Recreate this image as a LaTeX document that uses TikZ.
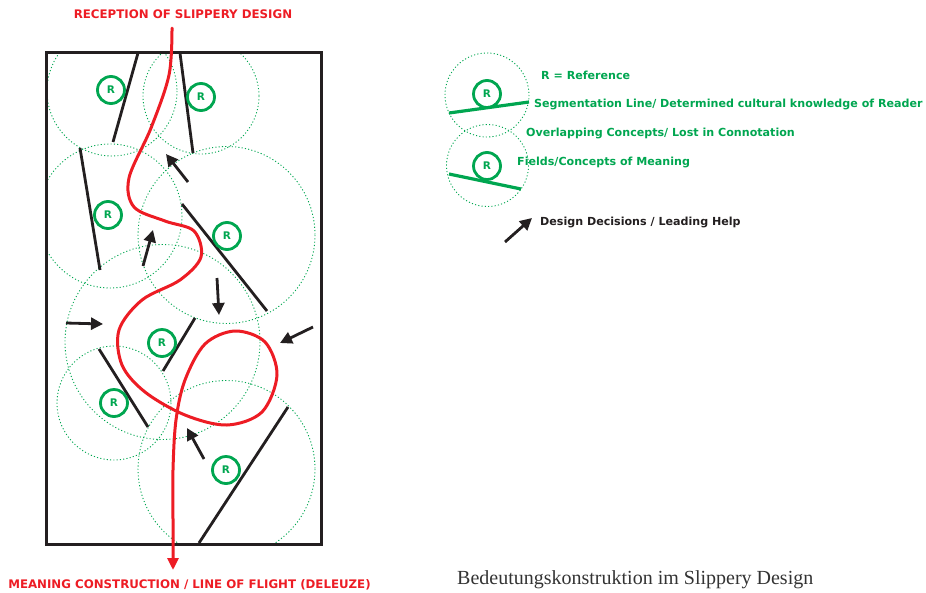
\documentclass[tikz,border=0pt]{standalone}
\usepackage{fontspec}
\setmainfont{Liberation Serif}
\newfontfamily\hv{DejaVu Sans}
\usetikzlibrary{arrows.meta}
\definecolor{dgreen}{HTML}{00A650}
\definecolor{dred}{HTML}{ED1C24}
\definecolor{dblack}{HTML}{231F20}
\tikzset{
  frame/.style={draw=dblack,line width=3pt},
  segline/.style={draw=dblack,line width=2.8pt},
  field/.style={draw=dgreen,line width=0.9pt,dash pattern=on 1.1pt off 2.2pt},
  refnode/.style={circle,draw=dgreen,line width=2.8pt,minimum size=27pt,inner sep=0pt,text=dgreen,font=\hv\bfseries\fontsize{10.5}{10.5}\selectfont},
  decision/.style={draw=dblack,line width=2.8pt,-{Triangle[length=12pt,width=12pt]}},
  flight/.style={draw=dred,line width=3pt,line cap=round},
  redlabel/.style={text=dred,font=\hv\bfseries\fontsize{11.8}{12}\selectfont,inner sep=0pt},
  greenlabel/.style={text=dgreen,font=\hv\bfseries\fontsize{11.1}{12}\selectfont,inner sep=0pt,anchor=west},
  blacklabel/.style={text=dblack,font=\hv\bfseries\fontsize{11.1}{12}\selectfont,inner sep=0pt,anchor=west},
}
\begin{document}
\begin{tikzpicture}[x=1pt,y=-1pt]
\useasboundingbox (0,0) rectangle (926,592);

% fields of meaning (clipped to frame)
\begin{scope}
\clip (46,52) rectangle (321,544);
\draw[field] (112,91) circle (65);
\draw[field] (201,96) circle (58);
\draw[field] (110,216) circle (72);
\draw[field] (226.5,235) circle (88.5);
\draw[field] (162.5,342) circle (97.5);
\draw[field] (114,403) circle (57);
\draw[field] (226.5,469) circle (88.5);
\end{scope}

% frame
\draw[frame] (46,52) rectangle (321,544);

% segmentation lines
\coordinate (s1a) at (138,53); \coordinate (s1b) at (113,142);
\coordinate (s2a) at (180,53); \coordinate (s2b) at (193,153);
\coordinate (s3a) at (80,148); \coordinate (s3b) at (100,270);
\coordinate (s4a) at (182,204); \coordinate (s4b) at (267,311);
\coordinate (s5a) at (195,318); \coordinate (s5b) at (163,371);
\coordinate (s6a) at (99,349); \coordinate (s6b) at (148,427);
\coordinate (s7a) at (288,407); \coordinate (s7b) at (199,543);
\draw[segline] (s1a) -- (s1b);
\draw[segline] (s2a) -- (s2b);
\draw[segline] (s3a) -- (s3b);
\draw[segline] (s4a) -- (s4b);
\draw[segline] (s5a) -- (s5b);
\draw[segline] (s6a) -- (s6b);
\draw[segline] (s7a) -- (s7b);

% references
\node[refnode] (r1) at (111,90) {R};
\node[refnode] (r2) at (201,97) {R};
\node[refnode] (r3) at (108,215) {R};
\node[refnode] (r4) at (227,236) {R};
\node[refnode] (r5) at (162,343) {R};
\node[refnode] (r6) at (114,403) {R};
\node[refnode] (r7) at (226,470) {R};

% design decisions
\coordinate (a1s) at (188,182); \coordinate (a1e) at (166,154);
\coordinate (a2s) at (143,266); \coordinate (a2e) at (153,230);
\coordinate (a3s) at (66,323);  \coordinate (a3e) at (103,324);
\coordinate (a4s) at (217,278); \coordinate (a4e) at (219,315);
\coordinate (a5s) at (313,327); \coordinate (a5e) at (280,343);
\coordinate (a6s) at (204,459); \coordinate (a6e) at (187,428);
\draw[decision] (a1s) -- (a1e);
\draw[decision] (a2s) -- (a2e);
\draw[decision] (a3s) -- (a3e);
\draw[decision] (a4s) -- (a4e);
\draw[decision] (a5s) -- (a5e);
\draw[decision] (a6s) -- (a6e);

% line of flight
\node[redlabel] (top) at (183,14) {RECEPTION OF SLIPPERY DESIGN};
\node[redlabel] (bottom) at (189.5,585) {MEANING CONSTRUCTION / LINE OF FLIGHT (DELEUZE)};
\draw[flight,-{Triangle[length=12pt,width=11pt]}] plot[smooth,tension=0.55] coordinates {
 (172,28) (169,75) (151,128) (129,178) (134,207) (165,221) (194,231) (201,257) (180,280)
 (142,300) (119,330) (122,365) (145,392) (185,415) (227,425) (262,412) (277,375)
 (265,342) (235,331) (205,344) (185,380) (176,420) (173,470) (173,520) (173,570)};

% legend
\draw[field] (487,95) circle (42);
\draw[field] (487.5,165.5) circle (41);
\draw[dgreen,line width=3.2pt] (449,113) -- (529,102);
\draw[dgreen,line width=3.2pt] (449,174) -- (521,189);
\node[refnode] (lr1) at (487,94) {R};
\node[refnode] (lr2) at (487,166) {R};
\node[greenlabel] (g1) at (541,75) {R = Reference};
\node[greenlabel] (g2) at (534,104) {Segmentation Line/ Determined cultural knowledge of Reader};
\node[greenlabel] (g3) at (526,133) {Overlapping Concepts/ Lost in Connotation};
\node[greenlabel] (g4) at (517,162) {Fields/Concepts of Meaning};
\coordinate (las) at (505,242); \coordinate (lae) at (532,218);
\draw[decision] (las) -- (lae);
\node[blacklabel] (b1) at (540,222) {Design Decisions / Leading Help};

% caption
\node[text=black!80,font=\fontsize{20}{22}\selectfont,inner sep=0pt,anchor=west] (cap) at (457,580) {Bedeutungskonstruktion im Slippery Design};
\end{tikzpicture}
\end{document}
